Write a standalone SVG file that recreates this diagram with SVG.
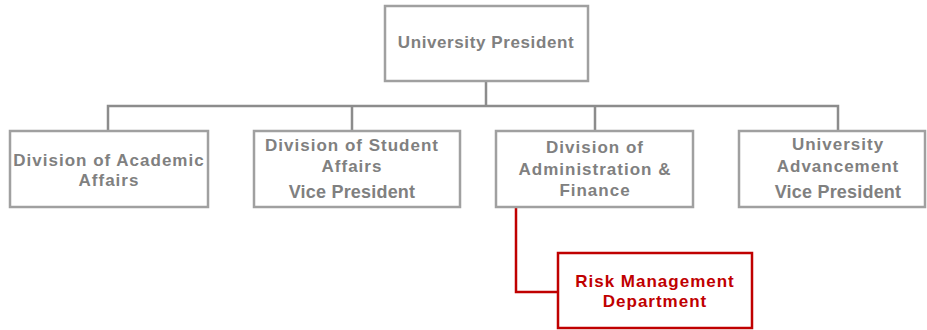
<svg xmlns="http://www.w3.org/2000/svg" width="927" height="330" viewBox="0 0 927 330">
<style>
.box{fill:#fff;stroke:#a0a0a0;stroke-width:2.5}
.rbox{fill:#fff;stroke:#c00000;stroke-width:2.5}
.ln{fill:none;stroke:#8c8c8c;stroke-width:2.5}
.rln{fill:none;stroke:#c00000;stroke-width:2.5}
text{font-family:"Liberation Sans",Arial,sans-serif;font-weight:bold;font-size:17px;fill:#808080;text-anchor:middle;letter-spacing:1px}
.r{fill:#c00000}
.vp{font-size:18px;letter-spacing:0.2px}
.pr{letter-spacing:0.6px}
</style>
<rect width="927" height="330" fill="#fff"/>
<g id="connectors">
<path class="ln" d="M486 81 V106 M108 131 V106 H838 V131 M352 106 V131 M595 106 V131"/>
<path class="rln" d="M516 207 V292 H558"/>
</g>
<g id="president">
<rect class="box" x="385" y="6" width="203" height="75"/>
<text class="pr" x="486" y="48">University President</text>
</g>
<g id="academic">
<rect class="box" x="10" y="131" width="198" height="76"/>
<text x="109" y="166">Division of Academic</text>
<text x="109" y="186">Affairs</text>
</g>
<g id="student">
<rect class="box" x="254" y="131" width="206" height="76"/>
<text x="352" y="151">Division of Student</text>
<text x="352" y="172">Affairs</text>
<text class="vp" x="352" y="198">Vice President</text>
</g>
<g id="admin">
<rect class="box" x="496" y="131" width="197" height="76"/>
<text x="595" y="153">Division of</text>
<text x="595" y="175">Administration &amp;</text>
<text x="595" y="196">Finance</text>
</g>
<g id="advancement">
<rect class="box" x="739" y="131" width="186" height="76"/>
<text x="838" y="150">University</text>
<text x="838" y="172">Advancement</text>
<text class="vp" x="838" y="198">Vice President</text>
</g>
<g id="risk">
<rect class="rbox" x="558" y="253" width="194" height="75"/>
<text class="r" x="655" y="287">Risk Management</text>
<text class="r" x="655" y="307">Department</text>
</g>
</svg>
